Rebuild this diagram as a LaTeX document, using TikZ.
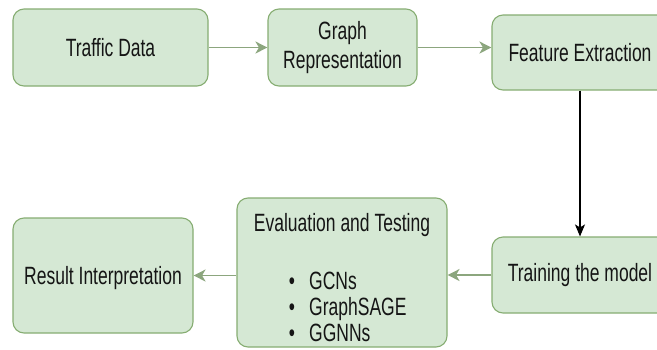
\documentclass[tikz,border=0pt]{standalone}
\usepackage{fontspec}
\setmainfont{Liberation Sans}[FakeStretch=0.70]
\usetikzlibrary{arrows.meta}
\definecolor{boxfill}{HTML}{D5E8D4}
\definecolor{boxline}{HTML}{86AD72}
\definecolor{arrowc}{HTML}{8CA67E}
\definecolor{txt}{HTML}{151515}
\begin{document}
\begin{tikzpicture}[x=1pt,y=-1pt,
  stepbox/.style={draw=boxline, fill=boxfill, line width=1.1pt, rounded corners=11pt,
    inner sep=0pt, text=txt, font=\fontsize{25}{28.5}\selectfont, align=center},
  lbl/.style={text=txt, font=\fontsize{25}{28.5}\selectfont, inner sep=0pt},
  flow/.style={draw=arrowc, line width=1.4pt, -{Stealth[length=12pt,width=12pt,inset=3.5pt]}},
  down/.style={draw=black, line width=1.1pt, -{Stealth[length=12pt,width=10pt,inset=3pt]}}]
\useasboundingbox (0,0) rectangle (657,349);
\clip (0,0) rectangle (657,349);
\fill[white] (0,0) rectangle (657,349);

% top row
\node[stepbox, minimum width=195pt, minimum height=77pt, text depth=0pt] (td) at (110.5,47.5) {Traffic Data};
\node[stepbox, minimum width=149pt, minimum height=77pt] (gr) at (342.5,47.5) {Graph\\Representation};
\node[stepbox, minimum width=176pt, minimum height=75pt, text depth=0pt] (fe) at (580,52.5) {Feature Extraction};

% bottom row
\node[stepbox, minimum width=176pt, minimum height=76pt] (tm) at (580,275) {Training the model};
\node[stepbox, minimum width=210pt, minimum height=149pt] (ev) at (342,272.5) {};
\node[stepbox, minimum width=180pt, minimum height=115pt, text depth=0pt] (ri) at (103,275.5) {Result Interpretation};

% evaluation contents
\node[lbl, anchor=base] (evt) at (342,231.5) {Evaluation and Testing};
\node[lbl, anchor=base] (d1) at (292,289) {•};
\node[lbl, anchor=base west] (g1) at (309,289) {GCNs};
\node[lbl, anchor=base] (d2) at (292,315) {•};
\node[lbl, anchor=base west] (g2) at (309,315) {GraphSAGE};
\node[lbl, anchor=base] (d3) at (292,341) {•};
\node[lbl, anchor=base west] (g3) at (309,341) {GGNNs};

% connectors
\draw[flow] (td.east) -- (gr.west);
\draw[flow] (gr.east) -- (gr.east -| fe.west);
\draw[down] (fe.south) -- (tm.north);
\draw[flow] (tm.west) -- (tm.west -| ev.east);
\draw[flow] (ri.east -| ev.west) -- (ri.east);
\end{tikzpicture}
\end{document}
